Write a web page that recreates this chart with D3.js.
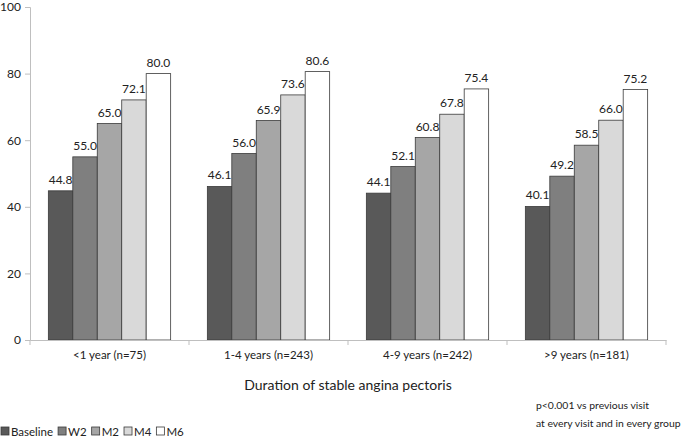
<!DOCTYPE html>
<html>
<head>
<meta charset="utf-8">
<script src="https://d3js.org/d3.v7.min.js"></script>
<style>
  body { margin: 0; background: #fff; }
  text { font-family: Lato, sans-serif; fill: #222; }
</style>
</head>
<body>
<div id="chart"></div>
<script>
// data
var groups = ['<1 year (n=75)', '1-4 years (n=243)', '4-9 years (n=242)', '>9 years (n=181)'];
var visits = ['Baseline', 'W2', 'M2', 'M4', 'M6'];
var baseline = [44.8, 46.1, 44.1, 40.1];
var w2 = [55.0, 56.0, 52.1, 49.2];
var m2 = [65.0, 65.9, 60.8, 58.5];
var m4 = [72.1, 73.6, 67.8, 66.0];
var m6 = [80.0, 80.6, 75.4, 75.2];
var yTicks = [0, 20, 40, 60, 80, 100];
var colors = ['#595959', '#7f7f7f', '#a6a6a6', '#d9d9d9', '#ffffff'];

var series = [baseline, w2, m2, m4, m6];
var rows = [];
groups.forEach(function(g, i) {
    visits.forEach(function(v, j) {
        rows.push({ group: g, visit: v, value: series[j][i], idx: j });
    });
});

var W = 685, H = 437;
var margin = { left: 30, top: 7 };
var plotW = 636, plotH = 333;
var font = 'Lato, sans-serif';
var fs = '11.5px';

var svg = d3.select('#chart').append('svg')
    .attr('width', W).attr('height', H);
var g = svg.append('g')
    .attr('transform', 'translate(' + margin.left + ',' + margin.top + ')');

var x0 = d3.scaleBand().domain(groups).range([0, plotW]);
// bars inside a group, Excel style gap of 150%
var x1 = d3.scaleBand().domain(visits).range([0, x0.bandwidth()])
    .paddingInner(0).paddingOuter(0.75);
var y = d3.scaleLinear().domain([0, 100]).range([plotH, 0]);
var bw = x1.bandwidth();

function barX(d) { return x0(d.group) + x1(d.visit); }

g.selectAll('rect.bar').data(rows).enter().append('rect')
    .attr('class', 'bar')
    .attr('x', barX)
    .attr('y', function(d) { return y(d.value); })
    .attr('width', bw)
    .attr('height', function(d) { return plotH - y(d.value); })
    .attr('fill', function(d) { return colors[d.idx]; })
    .attr('stroke', '#3a3a3a')
    .attr('stroke-width', 0.8);

g.selectAll('text.val').data(rows).enter().append('text')
    .attr('class', 'val')
    .attr('x', function(d) { return barX(d) + bw / 2; })
    .attr('y', function(d) { return y(d.value) - 7; })
    .attr('text-anchor', 'middle')
    .style('font-size', '12px')
    .text(function(d) { return d.value.toFixed(1); });

// y axis
var yAxis = g.append('g')
    .call(d3.axisLeft(y).tickValues(yTicks).tickSize(5).tickPadding(4));
yAxis.select('.domain').attr('stroke', '#bfbfbf');
yAxis.selectAll('.tick line').attr('stroke', '#bfbfbf');
yAxis.selectAll('.tick text').style('font-size', '12px').attr('fill', '#222')
    .style('font-family', font);

// x axis
var xAxis = g.append('g')
    .attr('transform', 'translate(0,' + plotH + ')')
    .call(d3.axisBottom(x0).tickSize(0).tickPadding(11));
xAxis.select('.domain').attr('stroke', '#bfbfbf');
xAxis.selectAll('.tick text').style('font-size', fs).attr('fill', '#222')
    .style('font-family', font);
// tick marks at the group boundaries
var bounds = groups.map(function(d) { return x0(d); }).concat([plotW]);
xAxis.selectAll('line.sep').data(bounds).enter().append('line')
    .attr('class', 'sep')
    .attr('x1', function(d) { return d; }).attr('x2', function(d) { return d; })
    .attr('y1', 0).attr('y2', 5)
    .attr('stroke', '#bfbfbf');

// axis title
svg.append('text')
    .attr('x', margin.left + plotW / 2)
    .attr('y', 390)
    .attr('text-anchor', 'middle')
    .style('font-size', '14px')
    .text('Duration of stable angina pectoris');

// note, font size picked so the longer line ends before the right edge
var notes = ['p<0.001 vs previous visit', 'at every visit and in every group'];
var noteX = 536, maxW = 146;
var noteTexts = notes.map(function(s, i) {
    return svg.append('text').attr('x', noteX).attr('y', 409 + i * 18)
        .style('font-size', '11px').text(s);
});
var widest = d3.max(noteTexts, function(t) { return t.node().getComputedTextLength(); });
if (widest > maxW) {
    var nfs = Math.floor(11 * maxW / widest * 10) / 10 + 'px';
    noteTexts.forEach(function(t) { t.style('font-size', nfs); });
}

// legend
var lg = svg.append('g').attr('transform', 'translate(1,427)');
var lx = 0;
visits.forEach(function(v, i) {
    lg.append('rect').attr('x', lx).attr('y', 0).attr('width', 8).attr('height', 8)
        .attr('fill', colors[i]).attr('stroke', '#3a3a3a').attr('stroke-width', 0.8);
    var t = lg.append('text').attr('x', lx + 10).attr('y', 8.5)
        .style('font-size', fs).text(v);
    lx += 10 + t.node().getComputedTextLength() + 5;
});
</script>
</body>
</html>
